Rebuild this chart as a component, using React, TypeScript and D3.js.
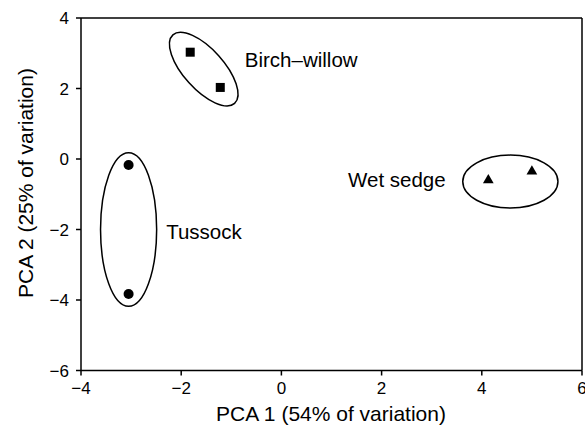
import React from "react";
import * as d3 from "d3";

const xTicks = [-4, -2, 0, 2, 4, 6];
const yTicks = [-6, -4, -2, 0, 2, 4];
const xTickLabels = ["−4", "−2", "0", "2", "4", "6"];
const yTickLabels = ["−6", "−4", "−2", "0", "2", "4"];

const birchX = [-1.82, -1.22];
const birchY = [3.03, 2.03];
const tussockX = [-3.05, -3.05];
const tussockY = [-0.17, -3.83];
const sedgeX = [4.13, 5.0];
const sedgeY = [-0.6, -0.35];

const groupNames = ["Birch–willow", "Tussock", "Wet sedge"];
// ellipse: center (data), semi-axes in data units, angle deg (screen)
const ellCx = [-1.55, -3.05, 4.57];
const ellCy = [2.55, -2.0, -0.64];
const ellRx = [0.92, 0.56, 0.95];
const ellRy = [0.57, 2.18, 0.75];
const ellAngle = [48, 0, 0];
const labelX = [-0.73, -2.3, 1.33];
const labelY = [2.61, -2.27, -0.79];

const W = 585;
const H = 429;

export default function App() {
  const x = d3.scaleLinear().domain([-4, 6]).range([81, 582]);
  const y = d3.scaleLinear().domain([-6, 4]).range([370.5, 18]);
  const pxPerX = 50.1;
  const pxPerY = 35.25;
  const font = "Arial, 'Liberation Sans', Helvetica, sans-serif";
  const tri = d3.symbol().type(d3.symbolTriangle).size(50)();

  return (
    <svg width={W} height={H} style={{ position: "absolute", left: 0, top: 0 }} fontFamily={font}>
      <rect width={W} height={H} fill="#fff" />
      {/* frame */}
      <line x1={x(-4)} x2={x(6)} y1={y(4)} y2={y(4)} stroke="#000" strokeWidth={1.5} />
      <line x1={x(6)} x2={x(6)} y1={y(4)} y2={y(-6)} stroke="#000" strokeWidth={1.5} />
      <line x1={x(-4)} x2={x(6)} y1={y(-6)} y2={y(-6)} stroke="#000" strokeWidth={1.5} />
      <line x1={x(-4)} x2={x(-4)} y1={y(4)} y2={y(-6)} stroke="#000" strokeWidth={1.5} />
      {/* x ticks */}
      {xTicks.map((t, i) => (
        <g key={"xt" + i}>
          <line x1={x(t)} x2={x(t)} y1={y(-6)} y2={y(-6) + 5} stroke="#000" strokeWidth={1.5} />
          <text x={x(t)} y={394} textAnchor="middle" fontSize={17}>
            {xTickLabels[i]}
          </text>
        </g>
      ))}
      {yTicks.map((t, i) => (
        <g key={"yt" + i}>
          <line x1={x(-4) - 5} x2={x(-4)} y1={y(t)} y2={y(t)} stroke="#000" strokeWidth={1.5} />
          <text x={69} y={y(t) + 6} textAnchor="end" fontSize={17}>
            {yTickLabels[i]}
          </text>
        </g>
      ))}
      <text x={331} y={421} textAnchor="middle" fontSize={21}>
        PCA 1 (54% of variation)
      </text>
      <text transform={`translate(33,${183}) rotate(-90)`} textAnchor="middle" fontSize={21}>
        PCA 2 (25% of variation)
      </text>
      {/* ellipses */}
      {groupNames.map((g, i) => (
        <ellipse
          key={"e" + i}
          cx={0}
          cy={0}
          rx={ellRx[i] * pxPerX}
          ry={ellRy[i] * pxPerY}
          transform={`translate(${x(ellCx[i])},${y(ellCy[i])}) rotate(${ellAngle[i]})`}
          fill="none"
          stroke="#000"
          strokeWidth={1.5}
        />
      ))}
      {groupNames.map((g, i) => (
        <text key={"l" + i} x={x(labelX[i])} y={y(labelY[i])} fontSize={20.5}>
          {g}
        </text>
      ))}
      {birchX.map((v, i) => (
        <rect key={"b" + i} x={x(v) - 4.5} y={y(birchY[i]) - 4.5} width={9} height={9} fill="#000" />
      ))}
      {tussockX.map((v, i) => (
        <circle key={"t" + i} cx={x(v)} cy={y(tussockY[i])} r={5} fill="#000" />
      ))}
      {sedgeX.map((v, i) => (
        <path key={"s" + i} d={tri || ""} transform={`translate(${x(v)},${y(sedgeY[i])})`} fill="#000" />
      ))}
    </svg>
  );
}
